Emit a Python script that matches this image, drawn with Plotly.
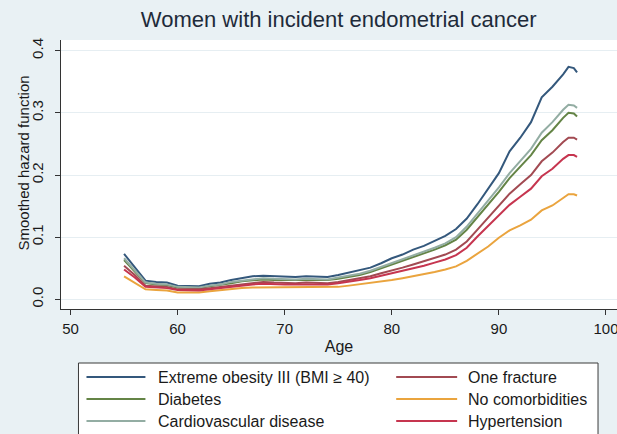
import plotly.graph_objects as go

ages = list(range(55, 97)) + [96.5, 97, 97.3]

series_names = [
    "Extreme obesity III (BMI \u2265 40)",
    "Diabetes",
    "Cardiovascular disease",
    "One fracture",
    "No comorbidities",
    "Hypertension",
]
colors = ["#34587c", "#648446", "#93ada3", "#a24a52", "#eaa43e", "#c6354f"]

extreme_obesity = [0.073, 0.052, 0.030, 0.028, 0.027, 0.022, 0.021, 0.021, 0.025, 0.027,
                   0.031, 0.034, 0.037, 0.038, 0.037, 0.036, 0.036, 0.037, 0.037, 0.036,
                   0.039, 0.043, 0.046, 0.051, 0.058, 0.066, 0.072, 0.080, 0.086, 0.094,
                   0.102, 0.113, 0.130, 0.153, 0.177, 0.203, 0.238, 0.260, 0.285, 0.325,
                   0.342, 0.362, 0.374, 0.372, 0.365]
diabetes = [0.063, 0.045, 0.026, 0.024, 0.023, 0.019, 0.018, 0.018, 0.021, 0.023,
            0.026, 0.029, 0.031, 0.032, 0.031, 0.031, 0.031, 0.031, 0.031, 0.031,
            0.033, 0.036, 0.039, 0.044, 0.050, 0.056, 0.061, 0.067, 0.073, 0.080,
            0.087, 0.096, 0.112, 0.132, 0.153, 0.173, 0.195, 0.213, 0.232, 0.256,
            0.272, 0.292, 0.300, 0.299, 0.294]
cardiovascular = [0.066, 0.047, 0.027, 0.025, 0.024, 0.020, 0.019, 0.019, 0.022, 0.024,
                  0.028, 0.030, 0.033, 0.034, 0.033, 0.032, 0.032, 0.033, 0.033, 0.032,
                  0.035, 0.038, 0.041, 0.046, 0.052, 0.058, 0.064, 0.070, 0.076, 0.083,
                  0.090, 0.100, 0.117, 0.138, 0.160, 0.180, 0.203, 0.222, 0.242, 0.268,
                  0.285, 0.305, 0.313, 0.312, 0.308]
one_fracture = [0.054, 0.039, 0.022, 0.021, 0.020, 0.016, 0.016, 0.016, 0.018, 0.020,
                0.023, 0.025, 0.027, 0.028, 0.027, 0.026, 0.026, 0.027, 0.027, 0.026,
                0.028, 0.031, 0.034, 0.037, 0.042, 0.046, 0.051, 0.056, 0.061, 0.067,
                0.072, 0.080, 0.093, 0.112, 0.131, 0.150, 0.170, 0.185, 0.200, 0.222,
                0.236, 0.253, 0.260, 0.260, 0.257]
no_comorbidities = [0.037, 0.027, 0.016, 0.015, 0.014, 0.011, 0.011, 0.011, 0.013, 0.015,
                    0.017, 0.018, 0.019, 0.019, 0.019, 0.019, 0.019, 0.019, 0.019, 0.019,
                    0.020, 0.022, 0.024, 0.026, 0.028, 0.031, 0.034, 0.037, 0.040, 0.044,
                    0.048, 0.053, 0.062, 0.073, 0.085, 0.099, 0.111, 0.119, 0.128, 0.143,
                    0.151, 0.163, 0.169, 0.169, 0.167]
hypertension = [0.048, 0.035, 0.020, 0.019, 0.018, 0.015, 0.014, 0.014, 0.016, 0.018,
                0.021, 0.023, 0.024, 0.025, 0.024, 0.024, 0.024, 0.024, 0.024, 0.024,
                0.026, 0.028, 0.031, 0.034, 0.038, 0.041, 0.045, 0.050, 0.054, 0.059,
                0.064, 0.071, 0.083, 0.101, 0.118, 0.135, 0.152, 0.165, 0.178, 0.198,
                0.210, 0.226, 0.232, 0.232, 0.229]

all_values = [extreme_obesity, diabetes, cardiovascular, one_fracture, no_comorbidities, hypertension]

x_ticks = [50, 60, 70, 80, 90, 100]
y_ticks = [0.0, 0.1, 0.2, 0.3, 0.4]

FONT = "Liberation Sans, Arial, sans-serif"
BG = "#e9f1f4"
W, H = 617, 434
ML, MR, MT, MB = 60.5, 0, 40, 125

fig = go.Figure()
for name, vals, col in zip(series_names, all_values, colors):
    fig.add_trace(go.Scatter(x=ages, y=vals, mode="lines", name=name,
                             line=dict(color=col, width=2), showlegend=False))

plot_w = W - ML - MR
plot_h = H - MT - MB


def px2paper_x(px):
    return (px - ML) / plot_w


def px2paper_y(py):
    return (H - MB - py) / plot_h


# manual legend (box, line samples, labels)
shapes = [dict(type="rect", xref="paper", yref="paper",
               x0=px2paper_x(78), x1=px2paper_x(598),
               y0=px2paper_y(363), y1=px2paper_y(445),
               line=dict(color="#3a3a3a", width=1), fillcolor="white", layer="above")]
annotations = []
legend_order = [0, 3, 1, 4, 2, 5]
row_y = [377, 399, 421]
col_line = [(86, 145), (396, 457)]
col_text = [156, 466]
for k, idx in enumerate(legend_order):
    r, c = k // 2, k % 2
    shapes.append(dict(type="line", xref="paper", yref="paper",
                       x0=px2paper_x(col_line[c][0]), x1=px2paper_x(col_line[c][1]),
                       y0=px2paper_y(row_y[r]), y1=px2paper_y(row_y[r]),
                       line=dict(color=colors[idx], width=2), layer="above"))
    annotations.append(dict(xref="paper", yref="paper", x=px2paper_x(col_text[c]),
                            y=px2paper_y(row_y[r]), xanchor="left", yanchor="middle",
                            text=series_names[idx], showarrow=False,
                            font=dict(family=FONT, size=16, color="#1a1a1a")))

# y-axis title
annotations.append(dict(xref="paper", yref="paper", x=px2paper_x(22), y=px2paper_y(163),
                        text="Smoothed hazard function", textangle=-90, showarrow=False,
                        xanchor="center", yanchor="middle",
                        font=dict(family=FONT, size=15, color="#1a1a1a")))

fig.update_layout(
    width=W, height=H,
    margin=dict(l=ML, r=MR, t=MT, b=MB, pad=0),
    paper_bgcolor=BG,
    plot_bgcolor="white",
    title=dict(text="Women with incident endometrial cancer", x=(ML + plot_w / 2) / W,
               xanchor="center", y=1 - 19 / H, yanchor="middle",
               font=dict(family=FONT, size=22, color="#1e2b3a")),
    xaxis=dict(range=[49.11, 101.03], tickvals=x_ticks, ticks="outside", ticklen=5,
               tickcolor="#333", showline=True, linecolor="#333", linewidth=1,
               showgrid=False, zeroline=False, mirror=False,
               ticklabeloverflow="allow",
               tickfont=dict(family=FONT, size=15, color="#1a1a1a"),
               ticklabelstandoff=1,
               title=dict(text="Age", standoff=4,
                          font=dict(family=FONT, size=16, color="#1a1a1a"))),
    yaxis=dict(range=[-0.0156, 0.4172], tickvals=y_ticks, tickformat=".1f",
               ticks="outside", ticklen=5, tickcolor="#333", tickangle=-90,
               showline=True, linecolor="#333", linewidth=1,
               showgrid=True, gridcolor="#e6eef2", gridwidth=1, zeroline=False,
               tickfont=dict(family=FONT, size=15, color="#1a1a1a"),
               ticklabelstandoff=6),
    shapes=shapes,
    annotations=annotations,
    showlegend=False,
)

fig.write_html(
    "out.html",
    config={"displayModeBar": False},
    post_script="document.body.style.margin='0px';document.body.style.padding='0px';"
                "document.body.style.background='" + BG + "';",
)
